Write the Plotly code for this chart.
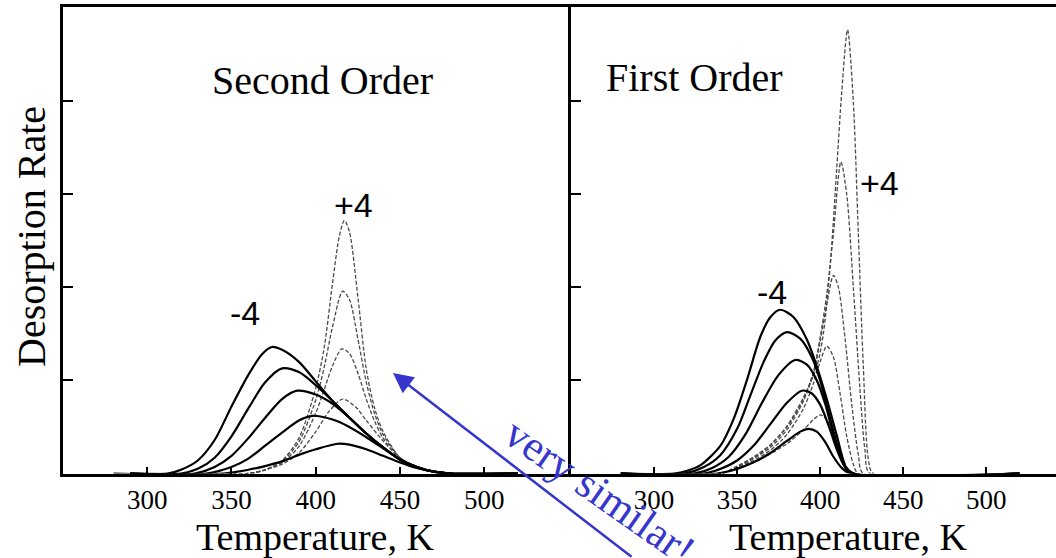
import plotly.graph_objects as go

# ---------------- Second order panel (left) ----------------
# solid curves: -4 .. 0
so_neg4_T = [280, 312, 320, 330, 340, 350, 360, 368, 374, 380, 390, 400, 410, 420, 430, 440, 450, 460, 470, 480, 520]
so_neg4_r = [0, 0, 0.04, 0.14, 0.36, 0.72, 1.06, 1.28, 1.36, 1.33, 1.2, 0.99, 0.78, 0.6, 0.43, 0.28, 0.15, 0.07, 0.02, 0, 0]
so_neg3_T = [290, 320, 330, 340, 350, 360, 370, 380, 390, 400, 410, 420, 430, 440, 450, 460, 470, 480, 520]
so_neg3_r = [0, 0, 0.05, 0.17, 0.4, 0.7, 0.98, 1.13, 1.09, 0.95, 0.78, 0.6, 0.43, 0.28, 0.15, 0.07, 0.02, 0, 0]
so_neg2_T = [290, 328, 340, 350, 360, 370, 380, 389, 400, 410, 420, 430, 440, 450, 460, 470, 480, 520]
so_neg2_r = [0, 0, 0.07, 0.19, 0.38, 0.6, 0.8, 0.89, 0.85, 0.75, 0.6, 0.43, 0.28, 0.15, 0.07, 0.02, 0, 0]
so_neg1_T = [290, 335, 350, 360, 370, 380, 390, 398, 410, 420, 430, 440, 450, 460, 470, 480, 520]
so_neg1_r = [0, 0, 0.07, 0.16, 0.3, 0.44, 0.57, 0.62, 0.58, 0.5, 0.39, 0.27, 0.15, 0.07, 0.02, 0, 0]
so_zero_T = [290, 345, 360, 370, 380, 390, 400, 413, 420, 430, 440, 450, 460, 470, 480, 520]
so_zero_r = [0, 0, 0.04, 0.08, 0.13, 0.2, 0.26, 0.32, 0.31, 0.26, 0.19, 0.12, 0.06, 0.02, 0, 0]
# dashed curves: +1 .. +4
so_pos1_T = [290, 360, 370, 380, 390, 400, 408, 416, 424, 430, 440, 450, 460, 470, 480, 520]
so_pos1_r = [0, 0, 0.04, 0.1, 0.22, 0.45, 0.67, 0.8, 0.71, 0.57, 0.35, 0.17, 0.07, 0.02, 0, 0]
so_pos2_T = [290, 360, 370, 380, 390, 400, 405, 410, 415.5, 420, 425, 430, 435, 440, 450, 460, 470, 480, 520]
so_pos2_r = [0, 0, 0.04, 0.12, 0.29, 0.65, 0.9, 1.16, 1.34, 1.29, 1.08, 0.8, 0.56, 0.38, 0.16, 0.06, 0.02, 0, 0]
so_pos3_T = [290, 360, 370, 380, 390, 400, 405, 410, 416, 420, 425, 430, 435, 440, 450, 460, 470, 480, 520]
so_pos3_r = [0, 0, 0.04, 0.13, 0.34, 0.79, 1.14, 1.58, 1.96, 1.87, 1.45, 0.98, 0.64, 0.42, 0.17, 0.06, 0.02, 0, 0]
so_pos4_T = [290, 360, 370, 380, 390, 400, 405, 410, 414, 417, 420, 425, 430, 435, 440, 450, 460, 470, 480, 520]
so_pos4_r = [0, 0, 0.04, 0.14, 0.38, 0.92, 1.35, 2.05, 2.55, 2.72, 2.6, 1.9, 1.12, 0.7, 0.45, 0.17, 0.06, 0.02, 0, 0]

# ---------------- First order panel (right) ----------------
fo_neg4_T = [280, 312, 320, 328, 340, 348, 356, 364, 370, 376, 384, 392, 398, 404, 410, 416, 420, 520]
fo_neg4_r = [0, 0, 0.03, 0.09, 0.3, 0.59, 1.01, 1.47, 1.68, 1.76, 1.68, 1.44, 1.15, 0.8, 0.41, 0.05, 0, 0]
fo_neg3_T = [280, 318, 330, 340, 350, 358, 366, 373, 380, 388, 395, 400, 405, 410, 415, 420, 520]
fo_neg3_r = [0, 0, 0.07, 0.2, 0.48, 0.84, 1.2, 1.43, 1.52, 1.45, 1.25, 1.0, 0.66, 0.33, 0.08, 0, 0]
fo_neg2_T = [280, 324, 335, 345, 355, 365, 375, 385, 392, 398, 403, 408, 413, 418, 520]
fo_neg2_r = [0, 0, 0.06, 0.18, 0.42, 0.76, 1.06, 1.22, 1.17, 1.0, 0.75, 0.42, 0.14, 0.01, 0]
fo_neg1_T = [280, 330, 340, 350, 360, 370, 380, 389, 395, 400, 405, 410, 415, 420, 520]
fo_neg1_r = [0, 0, 0.05, 0.14, 0.3, 0.53, 0.76, 0.89, 0.86, 0.74, 0.52, 0.26, 0.07, 0, 0]
fo_zero_T = [280, 338, 350, 360, 370, 380, 388, 393, 398, 403, 408, 413, 418, 520]
fo_zero_r = [0, 0, 0.05, 0.12, 0.22, 0.35, 0.45, 0.48, 0.45, 0.34, 0.18, 0.06, 0, 0]
fo_pos1_T = [280, 340, 350, 360, 370, 380, 390, 396, 400, 404, 408, 412, 416, 420, 520]
fo_pos1_r = [0, 0, 0.05, 0.12, 0.21, 0.32, 0.47, 0.58, 0.63, 0.58, 0.42, 0.22, 0.07, 0, 0]
fo_pos2_T = [280, 340, 350, 360, 370, 380, 390, 396, 400, 404, 408, 412, 416, 420, 423, 520]
fo_pos2_r = [0, 0, 0.06, 0.14, 0.25, 0.42, 0.7, 0.97, 1.2, 1.37, 1.25, 0.86, 0.4, 0.1, 0, 0]
fo_pos3_T = [280, 340, 350, 360, 370, 380, 390, 396, 400, 404, 408, 411, 415, 419, 423, 426, 520]
fo_pos3_r = [0, 0, 0.07, 0.16, 0.28, 0.47, 0.78, 1.08, 1.42, 1.82, 2.13, 2.0, 1.45, 0.75, 0.2, 0, 0]
fo_pos4_T = [280, 340, 350, 360, 370, 380, 390, 396, 400, 404, 408, 412.5, 416, 420, 424, 427, 430, 520]
fo_pos4_r = [0, 0, 0.07, 0.17, 0.3, 0.5, 0.8, 1.1, 1.46, 1.93, 2.58, 3.35, 3.0, 2.0, 0.9, 0.25, 0, 0]
fo_pos5_T = [280, 340, 350, 360, 370, 380, 390, 398, 402, 406, 410, 413, 416.5, 420, 423, 426, 429, 432, 520]
fo_pos5_r = [0, 0, 0.08, 0.18, 0.31, 0.51, 0.82, 1.15, 1.51, 2.22, 3.28, 4.1, 4.77, 3.99, 2.57, 1.15, 0.16, 0, 0]

x_ticks = [300, 350, 400, 450, 500]
y_ticks = [1, 2, 3, 4]

W, H = 1056, 558
SERIF = "Liberation Serif"
SANS = "Liberation Sans"
BLUE = "#3636cc"

solid = dict(color="black", width=2.2, shape="spline", smoothing=0.8)
dashed = dict(color="#4a4a4a", width=1.3, dash="4px,2px", shape="spline", smoothing=0.8)

fig = go.Figure()

left_solid = [(so_neg4_T, so_neg4_r), (so_neg3_T, so_neg3_r), (so_neg2_T, so_neg2_r),
              (so_neg1_T, so_neg1_r), (so_zero_T, so_zero_r)]
left_dash = [(so_pos1_T, so_pos1_r), (so_pos2_T, so_pos2_r), (so_pos3_T, so_pos3_r),
             (so_pos4_T, so_pos4_r)]
right_solid = [(fo_neg4_T, fo_neg4_r), (fo_neg3_T, fo_neg3_r), (fo_neg2_T, fo_neg2_r),
               (fo_neg1_T, fo_neg1_r), (fo_zero_T, fo_zero_r)]
right_dash = [(fo_pos1_T, fo_pos1_r), (fo_pos2_T, fo_pos2_r), (fo_pos3_T, fo_pos3_r),
              (fo_pos4_T, fo_pos4_r), (fo_pos5_T, fo_pos5_r)]

for t, r in left_dash:
    fig.add_trace(go.Scatter(x=t, y=r, mode="lines", line=dashed, xaxis="x", yaxis="y"))
for t, r in left_solid:
    fig.add_trace(go.Scatter(x=t, y=r, mode="lines", line=solid, xaxis="x", yaxis="y"))
for t, r in right_dash:
    fig.add_trace(go.Scatter(x=t, y=r, mode="lines", line=dashed, xaxis="x2", yaxis="y2"))
for t, r in right_solid:
    fig.add_trace(go.Scatter(x=t, y=r, mode="lines", line=solid, xaxis="x2", yaxis="y2"))

split = 571 / W
y_dom = [1 - 473.5 / H, 1 - 6.5 / H]

xcommon = dict(tickvals=x_ticks, ticks="inside", ticklen=7, tickwidth=1.5, tickcolor="black",
               showline=True, linewidth=3, linecolor="black", mirror=True,
               showgrid=False, zeroline=False,
               tickfont=dict(family=SERIF, size=27, color="black"))
ycommon = dict(tickvals=y_ticks, ticks="inside", ticklen=10, tickwidth=1.5, tickcolor="black",
               showticklabels=False, showline=True, linewidth=3, linecolor="black",
               showgrid=False, zeroline=False, range=[0, 5.02], domain=y_dom, mirror=False)

fig.update_layout(
    width=W, height=H,
    margin=dict(l=0, r=0, t=0, b=0),
    paper_bgcolor="white", plot_bgcolor="white",
    showlegend=False,
    xaxis=dict(domain=[63 / W, split], range=[250, 551.5], anchor="y", **xcommon),
    yaxis=dict(anchor="x", **ycommon),
    xaxis2=dict(domain=[split, 1.0], range=[250, 542], anchor="y2", **xcommon),
    yaxis2=dict(anchor="x2", **ycommon),
)

def px(x, y):
    return dict(x=x / W, y=1 - y / H, xref="paper", yref="paper")

annos = [
    dict(text="Second Order", font=dict(family=SERIF, size=40, color="black"), **px(322, 80)),
    dict(text="First Order", font=dict(family=SERIF, size=40, color="black"), **px(694, 78)),
    dict(text="Desorption Rate", textangle=-90, font=dict(family=SERIF, size=40, color="black"), **px(31, 237)),
    dict(text="Temperature, K", font=dict(family=SERIF, size=38, color="black"), **px(315, 537)),
    dict(text="Temperature, K", font=dict(family=SERIF, size=38, color="black"), **px(848, 537)),
    dict(text="-4", x=358, y=1.73, xref="x", yref="y", font=dict(family=SANS, size=34, color="black")),
    dict(text="+4", x=422.7, y=2.89, xref="x", yref="y", font=dict(family=SANS, size=34, color="black")),
    dict(text="-4", x=371, y=1.95, xref="x2", yref="y2", font=dict(family=SANS, size=34, color="black")),
    dict(text="+4", x=436, y=3.12, xref="x2", yref="y2", font=dict(family=SANS, size=34, color="black")),
    dict(text="very similar!", textangle=35, font=dict(family=SERIF, size=43, color=BLUE), **px(600, 491)),
]
for a in annos:
    a.setdefault("showarrow", False)
    a.setdefault("xanchor", "center")
    a.setdefault("yanchor", "middle")
    fig.add_annotation(**a)

# arrow pointing back at the second-order peaks; its tail sits on the bottom edge
fig.add_annotation(text="", showarrow=True, arrowhead=2, arrowsize=1.6, arrowwidth=2.5,
                   arrowcolor=BLUE, ax=240, ay=185, axref="pixel", ayref="pixel",
                   **px(393, 373))

fig.write_html("out.html")
